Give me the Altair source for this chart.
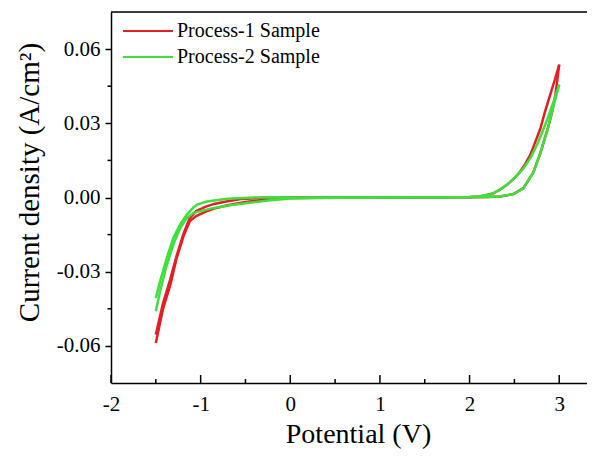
import altair as alt
import pandas as pd

SAMPLES = ["Process-1 Sample", "Process-2 Sample"]
COLORS = ["#e31e24", "#3ee03e"]

# Process-1: sweep from -1.5 V up to 3.0 V (lower branch on the right)
RED_FWD_X = [-1.50, -1.42, -1.34, -1.27, -1.19, -1.12, -1.05, -0.95, -0.85, -0.70, -0.50, -0.25, 0.0,
             0.5, 1.0, 1.5, 2.0, 2.20, 2.34, 2.49, 2.60, 2.71, 2.79, 2.87, 2.92, 2.96, 3.00]
RED_FWD_Y = [-0.0588, -0.0450, -0.0355, -0.0248, -0.0155, -0.0095, -0.0075, -0.0058, -0.0045, -0.0031,
             -0.0018, -0.0007, -0.0002, 0.0, 0.0, 0.0001, 0.0001, 0.0002, 0.0004, 0.0014, 0.0038,
             0.0100, 0.0180, 0.0275, 0.0345, 0.0420, 0.0537]
# Process-1: sweep back from 3.0 V down to -1.5 V
RED_REV_X = [3.00, 2.95, 2.90, 2.84, 2.79, 2.73, 2.68, 2.62, 2.565, 2.50, 2.42, 2.34, 2.26, 2.12, 2.0,
             1.5, 1.0, 0.5, 0.0, -0.3, -0.55, -0.70, -0.85, -0.95, -1.05, -1.12, -1.19, -1.27, -1.34,
             -1.42, -1.50]
RED_REV_Y = [0.0537, 0.0475, 0.0416, 0.0345, 0.0279, 0.0222, 0.0174, 0.0135, 0.0105, 0.0078, 0.0052,
             0.0032, 0.0016, 0.0004, 0.0002, 0.0001, 0.0, 0.0, 0.0, -0.0001, -0.0006, -0.0015, -0.0026,
             -0.0038, -0.0055, -0.0082, -0.0145, -0.0238, -0.0332, -0.0428, -0.0554]

# Process-2
GREEN_FWD_X = [-1.50, -1.45, -1.38, -1.30, -1.23, -1.16, -1.08, -1.00, -0.90, -0.80, -0.65, -0.50,
               -0.25, 0.0, 0.5, 1.0, 1.5, 2.0, 2.20, 2.34, 2.49, 2.60, 2.71, 2.79, 2.87, 2.94, 3.00]
GREEN_FWD_Y = [-0.0460, -0.0375, -0.0275, -0.0185, -0.0125, -0.0085, -0.0062, -0.0055, -0.0046,
               -0.0039, -0.0030, -0.0023, -0.0012, -0.0004, -0.0001, 0.0, 0.0001, 0.0001, 0.0002,
               0.0004, 0.0014, 0.0036, 0.0100, 0.0180, 0.0275, 0.0375, 0.0456]
GREEN_REV_X = [3.00, 2.94, 2.87, 2.80, 2.754, 2.68, 2.60, 2.51, 2.42, 2.32, 2.23, 2.10, 2.0, 1.5, 1.0,
               0.5, 0.0, -0.4, -0.7, -0.93, -1.04, -1.08, -1.155, -1.23, -1.305, -1.378, -1.453, -1.50]
GREEN_REV_Y = [0.0456, 0.0390, 0.0319, 0.0255, 0.0214, 0.0160, 0.0117, 0.0082, 0.0052, 0.0028,
               0.0012, 0.0004, 0.0002, 0.0001, 0.0, 0.0, 0.0, 0.0, -0.0005, -0.0016, -0.0029,
               -0.0040, -0.0070, -0.0110, -0.0164, -0.0245, -0.0339, -0.0407]

X_MAJOR = [-2, -1, 0, 1, 2, 3]
X_MINOR = [-1.5, -0.5, 0.5, 1.5, 2.5]
Y_MAJOR = [-0.06, -0.03, 0.0, 0.03, 0.06]
Y_MINOR = [-0.045, -0.015, 0.015, 0.045]

rows = []
def add(sample, branch, xs, ys):
    for i, (x, y) in enumerate(zip(xs, ys)):
        rows.append({"sample": sample, "branch": sample + " " + branch, "idx": i, "V": x, "J": y})

add(SAMPLES[0], "fwd", RED_FWD_X, RED_FWD_Y)
add(SAMPLES[0], "rev", RED_REV_X, RED_REV_Y)
add(SAMPLES[1], "fwd", GREEN_FWD_X, GREEN_FWD_Y)
add(SAMPLES[1], "rev", GREEN_REV_X, GREEN_REV_Y)
df = pd.DataFrame(rows)

W, H = 476, 371
FONT = "Times New Roman, Liberation Serif, serif"
xscale = alt.Scale(domain=[-2, 3.31], nice=False, zero=False)
yscale = alt.Scale(domain=[-0.075, 0.075], nice=False, zero=False)
fix_minus = "replace(datum.label, '\u2212', '-')"

lines = alt.Chart(df).mark_line(strokeWidth=2.5).encode(
    x=alt.X("V:Q", scale=xscale, axis=alt.Axis(
        title="Potential (V)", values=X_MAJOR, format="d", labelExpr=fix_minus, labelFlush=False,
        ticks=False, labelPadding=10, labelFont=FONT, labelFontSize=21, labelColor="black",
        domainColor="black", domainWidth=1.5, grid=False,
        titleFont=FONT, titleFontSize=28, titleFontWeight="normal", titleColor="black",
        titleX=247, titleY=59, titleBaseline="alphabetic")),
    y=alt.Y("J:Q", scale=yscale, axis=alt.Axis(
        title="Current density (A/cm²)", values=Y_MAJOR, format=".2f", labelExpr=fix_minus,
        labelFlush=False,
        tickSize=6, tickWidth=1.5, tickColor="black", labelPadding=5, labelFont=FONT,
        labelFontSize=21, labelColor="black", domainColor="black", domainWidth=1.5, grid=False,
        titleFont=FONT, titleFontSize=29, titleFontWeight="normal", titleColor="black",
        titleX=-73, titleY=170, titleBaseline="alphabetic")),
    color=alt.Color("sample:N", scale=alt.Scale(domain=SAMPLES, range=COLORS), legend=alt.Legend(
        title=None, orient="none", legendX=26, legendY=8, symbolType="M-2.5,0H2.5", symbolSize=400,
        symbolStrokeWidth=2, labelFont=FONT, labelFontSize=20, labelColor="black", labelOffset=18,
        rowPadding=5, padding=0)),
    detail="branch:N",
    order="idx:Q",
)

xmaj = alt.Chart(pd.DataFrame({"V": X_MAJOR})).mark_rule(color="black", strokeWidth=1.5).encode(
    x=alt.X("V:Q", scale=xscale), y=alt.value(H), y2=alt.value(H - 8))
xmin = alt.Chart(pd.DataFrame({"V": X_MINOR})).mark_rule(color="black", strokeWidth=1.5).encode(
    x=alt.X("V:Q", scale=xscale), y=alt.value(H), y2=alt.value(H - 4))
ymin = alt.Chart(pd.DataFrame({"J": Y_MINOR})).mark_rule(color="black", strokeWidth=1.5).encode(
    y=alt.Y("J:Q", scale=yscale), x=alt.value(0), x2=alt.value(-3.5))
top = alt.Chart(pd.DataFrame({"a": [0]})).mark_rule(color="black", strokeWidth=1.5).encode(
    x=alt.value(0), x2=alt.value(W), y=alt.value(0))

chart = alt.layer(lines, xmaj, xmin, ymin, top).properties(
    width=W, height=H,
    autosize=alt.AutoSizeParams(type="none"),
    padding={"left": 103, "top": 4, "right": 0, "bottom": 66},
).configure_view(stroke=None).configure(background="white")

chart.save("out.html", embed_options={"renderer": "svg", "actions": False})
